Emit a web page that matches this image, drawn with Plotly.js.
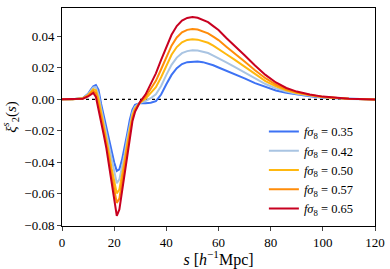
<!DOCTYPE html>
<html>
<head>
<meta charset="utf-8">
<script src="https://cdn.plot.ly/plotly-3.0.1.min.js"></script>
<style>html,body{margin:0;padding:0;background:#fff;}#chart{width:390px;height:269px;}</style>
</head>
<body>
<div id="chart"></div>
<script>
var s = [0,4,8,10,11,12,13,14,15,16,17,18,19,20,21,22,23,24,25,26,27,28,29,30,32,34,36,38,40,42,44,46,48,50,52,54,56,58,60,63,66,70,74,78,82,86,90,95,100,110,120];

var xi_035 = [0,0,0.0008,0.0035,0.0060,0.0083,0.0091,0.0060,-0.0030,-0.0105,-0.0180,-0.0260,-0.0335,-0.0400,-0.0455,-0.0445,-0.0385,-0.0310,-0.0220,-0.0130,-0.0065,-0.0035,-0.0027,-0.0024,-0.0025,-0.0022,-0.0012,0.0030,0.0095,0.0155,0.0198,0.0224,0.0236,0.0240,0.0240,0.0236,0.0228,0.0216,0.0202,0.0182,0.0162,0.0133,0.0103,0.0077,0.0056,0.0041,0.0030,0.0019,0.0010,0.0002,-0.0002];
var xi_042 = [0,0,0.0007,0.0031,0.0053,0.0075,0.0077,0.0030,-0.0058,-0.0135,-0.0213,-0.0300,-0.0386,-0.0463,-0.0533,-0.0509,-0.0436,-0.0350,-0.0251,-0.0155,-0.0084,-0.0046,-0.0032,-0.0022,-0.0011,0.0007,0.0032,0.0085,0.0155,0.0219,0.0265,0.0293,0.0306,0.0311,0.0310,0.0303,0.0294,0.0278,0.0262,0.0234,0.0208,0.0170,0.0131,0.0097,0.0069,0.0049,0.0035,0.0022,0.0012,0.0002,-0.0002];
var xi_050 = [0,0,0.0006,0.0027,0.0045,0.0064,0.0058,0.0000,-0.0085,-0.0165,-0.0245,-0.0340,-0.0438,-0.0525,-0.0598,-0.0573,-0.0488,-0.0390,-0.0283,-0.0180,-0.0103,-0.0058,-0.0036,-0.0020,0.0003,0.0037,0.0077,0.0140,0.0215,0.0283,0.0332,0.0362,0.0377,0.0381,0.0379,0.0371,0.0359,0.0341,0.0321,0.0286,0.0254,0.0207,0.0159,0.0116,0.0082,0.0057,0.0040,0.0025,0.0014,0.0003,-0.0002];
var xi_057 = [0,0,0.0005,0.0023,0.0038,0.0053,0.0038,-0.0028,-0.0110,-0.0193,-0.0275,-0.0377,-0.0485,-0.0583,-0.0658,-0.0631,-0.0535,-0.0427,-0.0311,-0.0203,-0.0120,-0.0068,-0.0040,-0.0017,0.0015,0.0063,0.0117,0.0191,0.0270,0.0341,0.0393,0.0425,0.0441,0.0446,0.0443,0.0432,0.0419,0.0398,0.0376,0.0334,0.0296,0.0240,0.0185,0.0134,0.0093,0.0064,0.0044,0.0027,0.0015,0.0003,-0.0002];
var xi_065 = [0,0,0.0004,0.0018,0.0030,0.0041,0.0015,-0.0060,-0.0140,-0.0225,-0.0310,-0.0420,-0.0540,-0.0650,-0.0740,-0.0700,-0.0590,-0.0470,-0.0345,-0.0230,-0.0140,-0.0080,-0.0045,-0.0015,0.0030,0.0095,0.0165,0.0250,0.0335,0.0410,0.0465,0.0500,0.0517,0.0522,0.0518,0.0505,0.0490,0.0465,0.0440,0.0390,0.0345,0.0280,0.0215,0.0155,0.0107,0.0072,0.0049,0.0030,0.0017,0.0004,-0.0002];

var labels = ['0.35','0.42','0.50','0.57','0.65'];
var series = [xi_035, xi_042, xi_050, xi_057, xi_065];
var colors = ['#3d72f4','#a9c4e2','#ffb80f','#ff8c0a','#c80020'];

var traces = series.map(function(y, i){
  return {x: s, y: y, type: 'scatter', mode: 'lines',
    name: '<i>fσ</i><sub>8</sub> = ' + labels[i],
    line: {color: colors[i], width: 2}};
});

var serif = '"Liberation Serif", "DejaVu Serif", "Times New Roman", serif';

var layout = {
  width: 390, height: 269,
  margin: {l: 62, r: 15, t: 8, b: 43},
  paper_bgcolor: '#fff', plot_bgcolor: '#fff',
  font: {family: serif, size: 13, color: '#000'},
  showlegend: true,
  legend: {x: 0.645, xanchor: 'left', y: 0.01, yanchor: 'bottom', bgcolor: 'rgba(0,0,0,0)',
    font: {family: serif, size: 12.5, color: '#000'}, tracegroupgap: 0, itemwidth: 30},
  xaxis: {range: [0, 120], tickvals: [0,20,40,60,80,100,120], ticks: 'outside', ticklen: 4,
    tickfont: {family: serif, size: 13, color: '#000'},
    showline: true, linecolor: '#000', linewidth: 1, mirror: true, showgrid: false, zeroline: false,
    title: {text: '<i>s</i> [<i>h</i><sup>−1</sup>Mpc]', font: {family: serif, size: 16, color: '#000'}, standoff: 6}},
  yaxis: {range: [-0.0805, 0.058], tickvals: [-0.08,-0.06,-0.04,-0.02,0,0.02,0.04], tickformat: '.2f',
    ticks: 'outside', ticklen: 4,
    tickfont: {family: serif, size: 13, color: '#000'},
    showline: true, linecolor: '#000', linewidth: 1, mirror: true, showgrid: false, zeroline: false,
    title: {text: '<i>ξ</i><sup><i>s</i></sup><sub>2</sub>(<i>s</i>)', font: {family: serif, size: 15, color: '#000'}, standoff: 4}},
  shapes: [{type: 'line', xref: 'x', yref: 'y', x0: 0, x1: 120, y0: 0, y1: 0,
    line: {color: '#000', width: 1.3, dash: 'dot'}, layer: 'below'}]
};

Plotly.newPlot('chart', traces, layout, {displayModeBar: false, staticPlot: true});
</script>
</body>
</html>
